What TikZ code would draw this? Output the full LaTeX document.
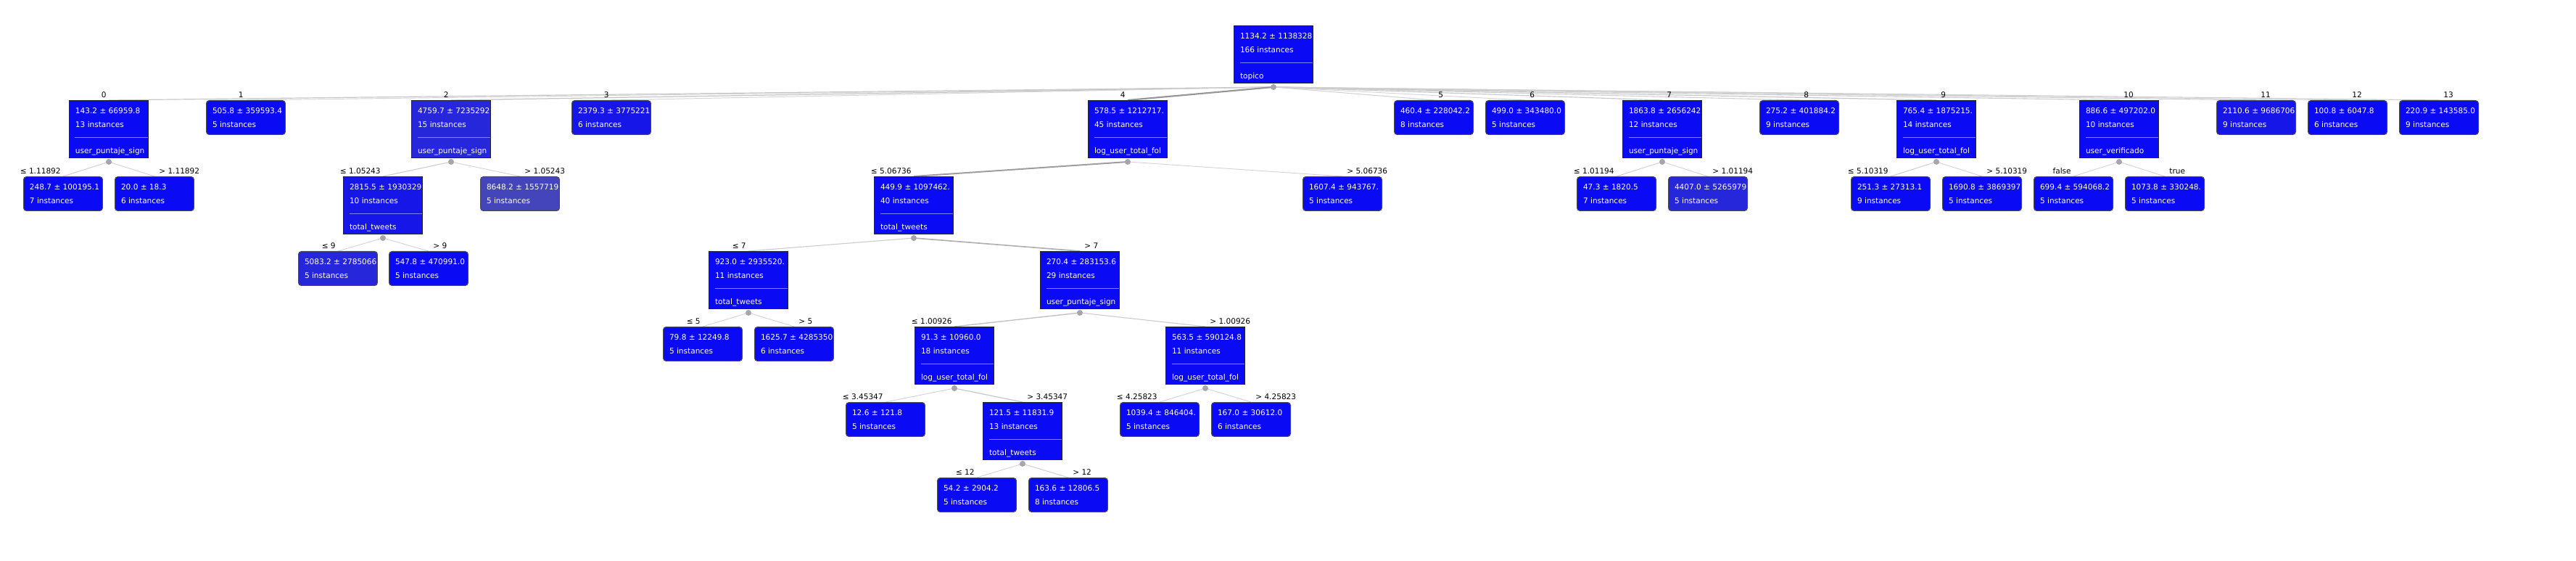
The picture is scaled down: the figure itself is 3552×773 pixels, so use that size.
\documentclass[tikz,border=0pt]{standalone}
\usepackage{fontspec}
\setmainfont{DejaVu Sans}
\usetikzlibrary{positioning,calc,backgrounds}
\definecolor{azul}{RGB}{10,10,245}
\definecolor{azulA}{RGB}{22,22,232}
\definecolor{azulB}{RGB}{38,38,218}
\definecolor{azulC}{RGB}{68,68,187}
\newcommand{\arbol}{\fontsize{6}{7}\selectfont}
\tikzset{
  caja/.style={draw=#1, line width=0.02cm, minimum width=2.18cm, inner sep=0pt, anchor=north west},
  hoja/.style={caja=black!70, rounded corners=0.08cm, minimum height=0.94cm},
  nodo/.style={caja=black!85, minimum height=1.58cm},
  linea/.style={anchor=base west, inner sep=0pt, minimum width=0pt, minimum height=0pt, text=white, font=\arbol},
  sep/.style={draw=azul!50!white, line width=0.03cm},
  punto/.style={circle, fill=black!35, minimum size=0.16cm, inner sep=0pt},
  etiq/.style={inner sep=0pt, font=\arbol, text=black}
}
% hoja: [relleno]{nombre}{x,y}{media}{instancias}
\newcommand{\hoja}[5][azul]{%
  \node[hoja, fill=#1, path picture={
    \coordinate (pp) at (path picture bounding box.north west);
    \node[linea] at ($(pp)+(0.16cm,-0.36cm)$) {#4};
    \node[linea] at ($(pp)+(0.16cm,-0.74cm)$) {#5};}] (#2) at (#3) {};}
% nodo: [relleno]{nombre}{x,y}{media}{instancias}{atributo}
\newcommand{\nodo}[6][azul]{%
  \node[nodo, fill=#1, path picture={
    \coordinate (pp) at (path picture bounding box.north west);
    \node[linea] at ($(pp)+(0.16cm,-0.36cm)$) {#4};
    \node[linea] at ($(pp)+(0.16cm,-0.74cm)$) {#5};
    \draw[sep] ($(pp)+(0.16cm,-1.02cm)$) -- ++(2.1cm,0cm);
    \node[linea] at ($(pp)+(0.16cm,-1.46cm)$) {#6};}] (#2) at (#3) {};
  \node[punto] (#2-p) at ($(#2.south)+(0cm,-0.1cm)$) {};}
\newcommand{\etiqI}[2]{\node[etiq, anchor=base east] (#1-e) at ($(#1.north)+(-0.06cm,0.07cm)$) {#2};}
\newcommand{\etiqD}[2]{\node[etiq, anchor=base west] (#1-e) at ($(#1.north)+(0.12cm,0.07cm)$) {#2};}
\newcommand{\rama}[3]{%
  \pgfmathsetmacro{\tono}{int(14+0.62*#3)}%
  \pgfmathsetmacro{\grosor}{0.016+0.0006*#3}%
  \draw[draw=black!\tono, line width=\grosor cm] (#1-p.center) -- (#2.north);}

\begin{document}
\begin{tikzpicture}[x=0.02cm, y=-0.02cm]
\useasboundingbox (0,0) rectangle (3552,773);

\nodo{raiz}{1701,35}{1134.2 ± 1138328}{166 instances}{topico}

% topico
\nodo{n0}{95,138}{143.2 ± 66959.8}{13 instances}{user\_puntaje\_sign}
\hoja{n1}{284,138}{505.8 ± 359593.4}{5 instances}
\nodo[azulB]{n2}{567,138}{4759.7 ± 7235292}{15 instances}{user\_puntaje\_sign}
\hoja[azulA]{n3}{788,138}{2379.3 ± 3775221}{6 instances}
\nodo{n4}{1500,138}{578.5 ± 1212717.}{45 instances}{log\_user\_total\_fol}
\hoja{n5}{1922,138}{460.4 ± 228042.2}{8 instances}
\hoja{n6}{2048,138}{499.0 ± 343480.0}{5 instances}
\nodo{n7}{2237,138}{1863.8 ± 2656242}{12 instances}{user\_puntaje\_sign}
\hoja{n8}{2426,138}{275.2 ± 401884.2}{9 instances}
\nodo{n9}{2615,138}{765.4 ± 1875215.}{14 instances}{log\_user\_total\_fol}
\nodo{n10}{2867,138}{886.6 ± 497202.0}{10 instances}{user\_verificado}
\hoja[azulA]{n11}{3056,138}{2110.6 ± 9686706}{9 instances}
\hoja{n12}{3182,138}{100.8 ± 6047.8}{6 instances}
\hoja{n13}{3308,138}{220.9 ± 143585.0}{9 instances}
\foreach \i in {0,...,4}{\etiqI{n\i}{\i}}
\foreach \i in {5,...,13}{\etiqD{n\i}{\i}}

% segundo nivel
\hoja{n0a}{32,243}{248.7 ± 100195.1}{7 instances}
\hoja{n0b}{158,243}{20.0 ± 18.3}{6 instances}
\nodo[azulA]{n2a}{473,243}{2815.5 ± 1930329}{10 instances}{total\_tweets}
\hoja[azulC]{n2b}{662,243}{8648.2 ± 1557719}{5 instances}
\nodo{n4a}{1205,243}{449.9 ± 1097462.}{40 instances}{total\_tweets}
\hoja{n4b}{1796,243}{1607.4 ± 943767.}{5 instances}
\hoja{n7a}{2174,243}{47.3 ± 1820.5}{7 instances}
\hoja[azulB]{n7b}{2300,243}{4407.0 ± 5265979}{5 instances}
\hoja{n9a}{2552,243}{251.3 ± 27313.1}{9 instances}
\hoja{n9b}{2678,243}{1690.8 ± 3869397}{5 instances}
\hoja{n10a}{2804,243}{699.4 ± 594068.2}{5 instances}
\hoja{n10b}{2930,243}{1073.8 ± 330248.}{5 instances}
\etiqI{n0a}{≤ 1.11892}   \etiqD{n0b}{> 1.11892}
\etiqI{n2a}{≤ 1.05243}   \etiqD{n2b}{> 1.05243}
\etiqI{n4a}{≤ 5.06736}   \etiqD{n4b}{> 5.06736}
\etiqI{n7a}{≤ 1.01194}   \etiqD{n7b}{> 1.01194}
\etiqI{n9a}{≤ 5.10319}   \etiqD{n9b}{> 5.10319}
\etiqI{n10a}{false}      \etiqD{n10b}{true}

% tercer nivel
\hoja[azulB]{n2a1}{411,346}{5083.2 ± 2785066}{5 instances}
\hoja{n2a2}{536,346}{547.8 ± 470991.0}{5 instances}
\nodo{n4a1}{977,346}{923.0 ± 2935520.}{11 instances}{total\_tweets}
\nodo{n4a2}{1434,346}{270.4 ± 283153.6}{29 instances}{user\_puntaje\_sign}
\etiqI{n2a1}{≤ 9}   \etiqD{n2a2}{> 9}
\etiqI{n4a1}{≤ 7}   \etiqD{n4a2}{> 7}

% cuarto nivel
\hoja{n4a1a}{914,450}{79.8 ± 12249.8}{5 instances}
\hoja{n4a1b}{1040,450}{1625.7 ± 4285350}{6 instances}
\nodo{n4a2a}{1261,450}{91.3 ± 10960.0}{18 instances}{log\_user\_total\_fol}
\nodo{n4a2b}{1607,450}{563.5 ± 590124.8}{11 instances}{log\_user\_total\_fol}
\etiqI{n4a1a}{≤ 5}         \etiqD{n4a1b}{> 5}
\etiqI{n4a2a}{≤ 1.00926}   \etiqD{n4a2b}{> 1.00926}

% quinto y sexto nivel
\hoja{n4a2a1}{1166,554}{12.6 ± 121.8}{5 instances}
\nodo{n4a2a2}{1355,554}{121.5 ± 11831.9}{13 instances}{total\_tweets}
\hoja{n4a2b1}{1544,554}{1039.4 ± 846404.}{5 instances}
\hoja{n4a2b2}{1670,554}{167.0 ± 30612.0}{6 instances}
\hoja{n4a2a21}{1292,658}{54.2 ± 2904.2}{5 instances}
\hoja{n4a2a22}{1418,658}{163.6 ± 12806.5}{8 instances}
\etiqI{n4a2a1}{≤ 3.45347}   \etiqD{n4a2a2}{> 3.45347}
\etiqI{n4a2b1}{≤ 4.25823}   \etiqD{n4a2b2}{> 4.25823}
\etiqI{n4a2a21}{≤ 12}       \etiqD{n4a2a22}{> 12}

\begin{scope}[on background layer]
\foreach \p/\h/\n in {raiz/n0/13, raiz/n1/5, raiz/n2/15, raiz/n3/6, raiz/n4/45,
    raiz/n5/8, raiz/n6/5, raiz/n7/12, raiz/n8/9, raiz/n9/14, raiz/n10/10,
    raiz/n11/9, raiz/n12/6, raiz/n13/9,
    n0/n0a/7, n0/n0b/6, n2/n2a/10, n2/n2b/5, n2a/n2a1/5, n2a/n2a2/5,
    n4/n4a/40, n4/n4b/5, n4a/n4a1/11, n4a/n4a2/29, n4a1/n4a1a/5, n4a1/n4a1b/6,
    n4a2/n4a2a/18, n4a2/n4a2b/11, n4a2a/n4a2a1/5, n4a2a/n4a2a2/13,
    n4a2b/n4a2b1/5, n4a2b/n4a2b2/6, n4a2a2/n4a2a21/5, n4a2a2/n4a2a22/8,
    n7/n7a/7, n7/n7b/5, n9/n9a/9, n9/n9b/5, n10/n10a/5, n10/n10b/5}
  {\rama{\p}{\h}{\n}}
\end{scope}
\end{tikzpicture}
\end{document}
